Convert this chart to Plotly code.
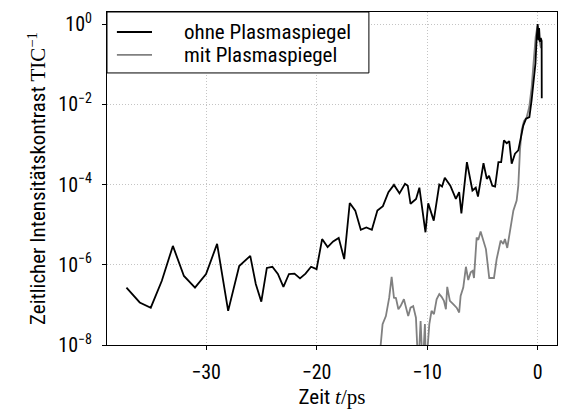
import plotly.graph_objects as go

# Zeitlicher Intensitätskontrast, log10 der Werte
t_ohne = [-37.2, -36.0, -35.0, -34.0, -33.0, -32.0, -31.0, -30.0, -29.0, -28.0,
          -27.0, -26.0, -25.5, -25.0, -24.5, -24.0, -23.5, -23.0, -22.5, -22.0,
          -21.5, -21.0, -20.5, -20.0, -19.5, -19.0, -18.5, -18.0, -17.5, -17.0,
          -16.5, -16.0, -15.5, -15.0, -14.5, -14.0, -13.5, -13.0, -12.5, -12.0,
          -11.75, -11.5, -11.0, -10.7, -10.15, -9.9, -9.4, -8.9, -8.65, -8.4,
          -7.9, -7.4, -7.1, -6.9, -6.4, -5.9, -5.6, -5.4, -4.9, -4.6,
          -4.4, -4.1, -3.85, -3.55, -3.3, -3.05, -2.8, -2.57, -2.35, -2.05,
          -1.75, -1.3, -1.05, -0.75, -0.55, -0.35, -0.2, -0.1, 0.0, 0.08,
          0.13, 0.2, 0.28, 0.36, 0.37]
log_ohne = [-6.57, -6.94, -7.07, -6.4, -5.53, -6.28, -6.57, -6.23, -5.48, -7.15,
            -6.03, -5.78, -6.48, -6.92, -6.08, -6.05, -6.23, -6.55, -6.23, -6.22,
            -6.34, -6.22, -6.05, -6.11, -5.36, -5.56, -5.42, -5.33, -5.86, -4.46,
            -4.65, -5.13, -5.07, -5.13, -4.65, -4.54, -4.19, -4.01, -4.22, -3.98,
            -4.03, -4.48, -4.36, -4.08, -5.19, -4.47, -4.9, -4.0, -4.05, -3.83,
            -4.03, -4.36, -4.19, -4.72, -3.44, -4.15, -4.08, -4.3, -3.47, -3.86,
            -3.78, -4.03, -4.05, -3.44, -3.44, -2.9, -2.97, -2.92, -3.48, -3.23,
            -3.15, -2.53, -2.36, -2.32, -1.9, -1.44, -0.98, -0.4, 0.0, -0.4,
            -0.1, -0.44, -0.35, -0.42, -1.85]

t_mit = [-14.3, -14.2, -14.03, -13.73, -13.43, -13.21, -13.0, -12.82, -12.6, -12.4,
         -12.1, -11.92, -11.71, -11.5, -11.26, -11.01, -10.8, -10.59, -10.4, -10.2,
         -10.1, -9.8, -9.6, -9.38, -9.14, -8.9, -8.69, -8.48, -8.3, -8.18,
         -7.94, -7.64, -7.33, -7.1, -6.97, -6.73, -6.49, -6.28, -6.06, -5.88,
         -5.76, -5.52, -5.37, -5.16, -4.86, -4.68, -4.38, -3.95, -3.71, -3.35,
         -3.11, -2.96, -2.75, -2.51, -2.35, -2.2, -1.9, -1.75, -1.6, -1.45,
         -1.24, -1.0, -0.76, -0.54, -0.4, -0.31, -0.18, -0.08, 0.0, 0.1,
         0.2, 0.3]
log_mit = [-8.6, -8.0, -7.48, -7.28, -6.82, -6.3, -6.82, -6.83, -7.11, -7.03,
           -6.86, -7.03, -7.28, -7.07, -7.03, -7.32, -8.6, -7.4, -8.6, -7.48,
           -8.6, -7.48, -7.15, -7.23, -6.86, -6.73, -6.8, -6.9, -7.11, -6.55,
           -6.9, -6.98, -7.07, -7.19, -6.78, -6.57, -6.05, -6.38, -6.19, -6.15,
           -6.33, -5.32, -5.38, -5.17, -5.44, -5.61, -6.33, -6.33, -5.86, -5.4,
           -5.48, -5.36, -5.58, -5.15, -4.9, -4.65, -4.4, -4.03, -3.15, -2.65,
           -2.42, -2.33, -2.07, -1.57, -1.07, -0.65, -0.32, -0.15, -0.05, -0.3,
           -0.5, -0.6]

x_ticks = [-30, -20, -10, 0]
y_tick_exp = [0, -2, -4, -6, -8]
y_tick_text = ["10<sup>0</sup>", "10<sup>\u22122</sup>", "10<sup>\u22124</sup>",
               "10<sup>\u22126</sup>", "10<sup>\u22128</sup>"]

series_names = ["ohne Plasmaspiegel", "mit Plasmaspiegel"]
series_colors = ["black", "#808080"]

y_ohne = [10 ** v for v in log_ohne]
y_mit = [10 ** v for v in log_mit]

FONT = "Roboto Condensed, Liberation Sans Narrow, DejaVu Sans Condensed, Roboto"
SERIF = "Liberation Serif"
FS = 21
WEIGHT = 400


def font(size=FS):
    return dict(family=FONT, size=size, color="black", weight=WEIGHT)


fig = go.Figure()
fig.add_trace(go.Scatter(x=t_mit, y=y_mit, mode="lines", name=series_names[1],
                         line=dict(color=series_colors[1], width=1.8), showlegend=False))
fig.add_trace(go.Scatter(x=t_ohne, y=y_ohne, mode="lines", name=series_names[0],
                         line=dict(color=series_colors[0], width=1.8), showlegend=False))

axis_common = dict(showline=True, linecolor="black", linewidth=1, mirror=True,
                   ticks="outside", ticklen=4, tickcolor="black",
                   showgrid=True, gridcolor="#c4c4c4", griddash="1px,2px", gridwidth=1,
                   zeroline=False, tickfont=font(20))

fig.update_xaxes(range=[-38.96, 1.75], tickvals=x_ticks,
                 ticktext=[str(v).replace("-", "\u2212") for v in x_ticks],
                 ticklabelstandoff=5,
                 title=dict(text=f"Zeit <span style=\"font-family:{SERIF}\"><i>t</i>/ps</span>",
                            font=font(), standoff=6),
                 **axis_common)
fig.update_yaxes(type="log", range=[-8, 0.3], tickvals=[10 ** e for e in y_tick_exp],
                 ticktext=y_tick_text, ticklabelstandoff=6,
                 title=dict(text=f"Zeitlicher Intensitätskontrast <span style=\"font-family:{SERIF}\">TIC<sup>\u22121</sup></span>",
                            font=font(), standoff=6),
                 **axis_common)

# Legende oben links: Rahmen, Liniensymbole und Beschriftungen
legend_box = dict(x0=0, x1=0.582, y0=0.817, y1=1.0)
legend_rows = [0.94, 0.871]
fig.add_shape(type="rect", xref="x domain", yref="y domain", layer="above",
              fillcolor="white", line=dict(color="black", width=1), **legend_box)
for name, color, yr in zip(series_names, series_colors, legend_rows):
    fig.add_shape(type="line", xref="x domain", yref="y domain", layer="above",
                  x0=0.022, x1=0.1, y0=yr, y1=yr, line=dict(color=color, width=1.8))
    fig.add_annotation(xref="x domain", yref="y domain", x=0.166, y=yr,
                       xanchor="left", yanchor="middle", text=name,
                       showarrow=False, font=font())

fig.update_layout(
    width=563, height=416,
    margin=dict(l=107, r=6, t=12, b=71),
    plot_bgcolor="white", paper_bgcolor="white",
    font=font(),
    showlegend=False,
)

fig.write_html("out.html")
